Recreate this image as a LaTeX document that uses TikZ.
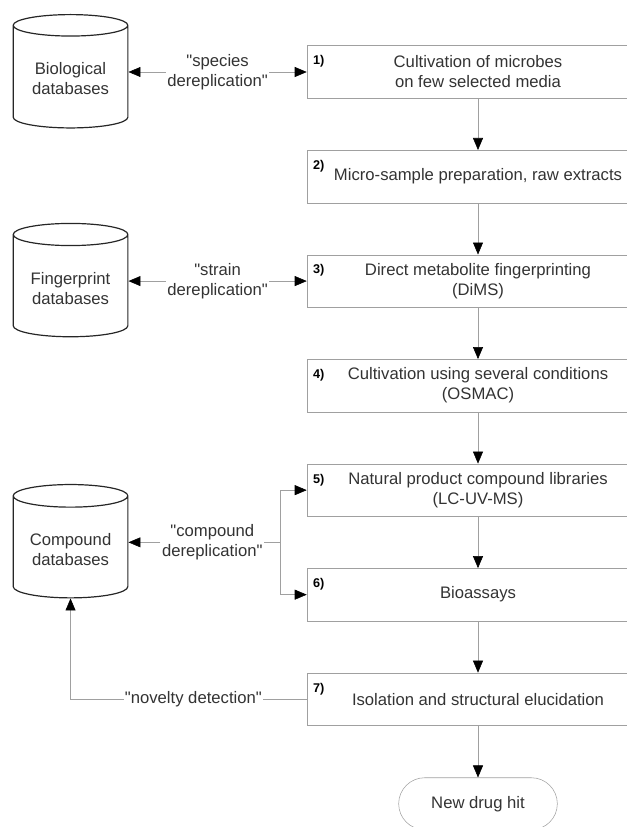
\documentclass[tikz,border=0pt]{standalone}
\usepackage{fontspec}
\setmainfont{Liberation Sans}
\usetikzlibrary{calc}
\usetikzlibrary{shapes,arrows.meta}
\definecolor{linegray}{RGB}{160,160,160}
\definecolor{textgray}{RGB}{51,51,51}
\newcommand{\qt}{\textquotedbl}

\tikzset{
  stepbox/.style={rectangle,draw=linegray,minimum width=256.5pt,minimum height=39.4pt,align=center,text=textgray},
  dbase/.style={cylinder,shape border rotate=90,aspect=0.25,draw=black!85,line width=0.9pt,minimum width=86pt,minimum height=85pt,align=center,text=textgray},
  note/.style={align=center,fill=white,inner sep=1pt,text=textgray},
  num/.style={anchor=north west,inner sep=0pt,xshift=4.5pt,yshift=-7.5pt,font=\fontsize{9.5}{10}\selectfont\bfseries,text=black},
  flow/.style={draw=linegray,-{Triangle[length=9pt,width=7.5pt,color=black,fill=black]}},
  backflow/.style={draw=linegray,{Triangle[length=9pt,width=7.5pt,color=black,fill=black]}-}
}

\begin{document}
\begin{tikzpicture}[node distance=78.4pt,font=\fontsize{12.5}{15}\selectfont]
\useasboundingbox (0,0) rectangle (470.25pt,-620.25pt);
\clip (0,0) rectangle (470.25pt,-620.25pt);

\node[stepbox,label={[num]north west:1)}] (cult) at (358.5pt,-54pt) {Cultivation of microbes\\on few selected media};
\node[stepbox,below of = cult,label={[num]north west:2)}] (prep) {Micro-sample preparation, raw extracts};
\node[stepbox,below of = prep,label={[num]north west:3)}] (dims) {Direct metabolite fingerprinting\\(DiMS)};
\node[stepbox,below of = dims,label={[num]north west:4)}] (osmac) {Cultivation using several conditions\\(OSMAC)};
\node[stepbox,below of = osmac,label={[num]north west:5)}] (lib) {Natural product compound libraries\\(LC-UV-MS)};
\node[stepbox,below of = lib,label={[num]north west:6)}] (assay) {Bioassays};
\node[stepbox,below of = assay,label={[num]north west:7)}] (iso) {Isolation and structural elucidation};
\node[rectangle,rounded corners=19.5pt,draw=linegray,below of = iso,minimum width=119pt,minimum height=39pt,text=textgray] (hit) {New drug hit};

\node[dbase,left of = cult,xshift=-227.2pt,yshift=-5.25pt] (bio) {Biological\\databases};
\node[dbase,left of = dims,xshift=-227.2pt,yshift=-5.25pt] (fing) {Fingerprint\\databases};
\node[dbase,left of = lib,xshift=-227.2pt,yshift=-44.4pt] (comp) {Compound\\databases};

\node[note] (sdl) at ($(bio.east |- cult)!0.5!(cult.west)$) {\qt species\\dereplication\qt};
\node[note] (tdl) at ($(fing.east |- dims)!0.5!(dims.west)$) {\qt strain\\dereplication\qt};
\node[note] (cdl) at ($(comp.east)!0.47!(lib.west |- comp.east)+(0,5.25pt)$) {\qt compound\\dereplication\qt};
\coordinate (split) at ($(cdl.east)+(12pt,0)$);

\draw[flow] (cult) -- (prep);
\draw[flow] (prep) -- (dims);
\draw[flow] (dims) -- (osmac);
\draw[flow] (osmac) -- (lib);
\draw[flow] (lib) -- (assay);
\draw[flow] (assay) -- (iso);
\draw[flow] (iso) -- (hit);

\draw[flow] (sdl) -- (sdl -| bio.east);
\draw[flow] (sdl) -- (cult);
\draw[flow] (tdl) -- (tdl -| fing.east);
\draw[flow] (tdl) -- (dims);
\draw[flow] (cdl) -- (cdl -| comp.east);
\draw[linegray] (cdl) -- (split);
\draw[flow] (split) |- (lib);
\draw[flow] (split) |- (assay);
\draw[backflow] (comp) |- node[note,pos=0.76] (ndl) {\qt novelty detection\qt} (iso);

\end{tikzpicture}
\end{document}
